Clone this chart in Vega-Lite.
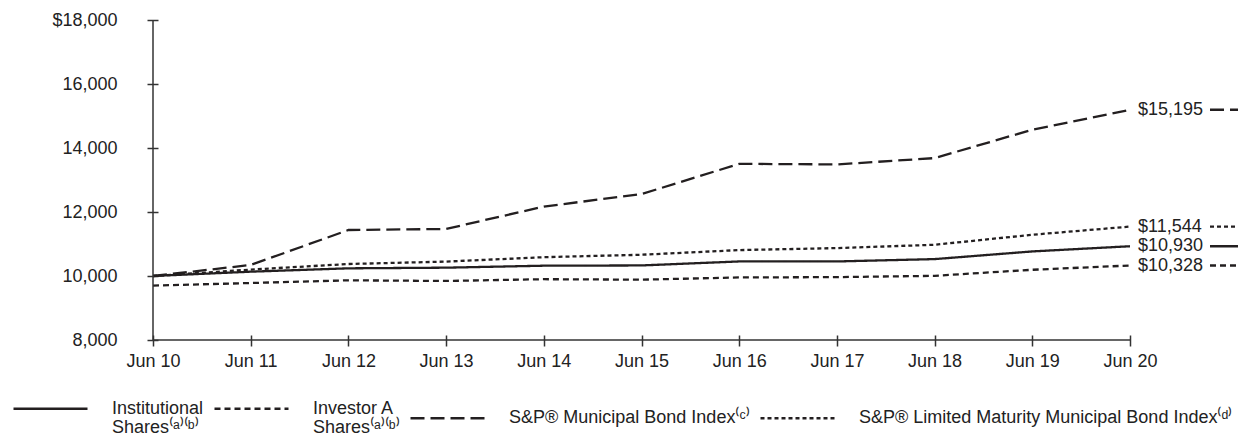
{
  "$schema": "https://vega.github.io/schema/vega-lite/v6.json",
  "width": 977,
  "height": 320,
  "autosize": {"type": "none"},
  "padding": {"left": 153, "top": 20, "right": 108, "bottom": 98},
  "background": "white",
  "config": {
    "view": {"stroke": null},
    "font": "Liberation Sans",
    "axis": {"labelFont": "Liberation Sans", "labelFontSize": 18, "labelColor": "#222", "domain": false, "grid": false, "tickColor": "#333", "tickWidth": 1.5, "tickSize": 11, "offset": -5, "title": null},
    "legend": {"labelFont": "Liberation Sans", "labelFontSize": 18, "labelColor": "#222"}
  },
  "data": {
    "values": [
      {"year": 2010, "series": "Institutional Shares", "value": 10000},
      {"year": 2011, "series": "Institutional Shares", "value": 10135},
      {"year": 2012, "series": "Institutional Shares", "value": 10240},
      {"year": 2013, "series": "Institutional Shares", "value": 10260},
      {"year": 2014, "series": "Institutional Shares", "value": 10322},
      {"year": 2015, "series": "Institutional Shares", "value": 10330},
      {"year": 2016, "series": "Institutional Shares", "value": 10455},
      {"year": 2017, "series": "Institutional Shares", "value": 10455},
      {"year": 2018, "series": "Institutional Shares", "value": 10528},
      {"year": 2019, "series": "Institutional Shares", "value": 10768},
      {"year": 2020, "series": "Institutional Shares", "value": 10930},
      {"year": 2010, "series": "Investor A Shares", "value": 9700},
      {"year": 2011, "series": "Investor A Shares", "value": 9781},
      {"year": 2012, "series": "Investor A Shares", "value": 9865},
      {"year": 2013, "series": "Investor A Shares", "value": 9845},
      {"year": 2014, "series": "Investor A Shares", "value": 9900},
      {"year": 2015, "series": "Investor A Shares", "value": 9885},
      {"year": 2016, "series": "Investor A Shares", "value": 9955},
      {"year": 2017, "series": "Investor A Shares", "value": 9965},
      {"year": 2018, "series": "Investor A Shares", "value": 10005},
      {"year": 2019, "series": "Investor A Shares", "value": 10195},
      {"year": 2020, "series": "Investor A Shares", "value": 10328},
      {"year": 2010, "series": "S&P® Municipal Bond Index", "value": 10000},
      {"year": 2011, "series": "S&P® Municipal Bond Index", "value": 10344},
      {"year": 2012, "series": "S&P® Municipal Bond Index", "value": 11437},
      {"year": 2013, "series": "S&P® Municipal Bond Index", "value": 11469},
      {"year": 2014, "series": "S&P® Municipal Bond Index", "value": 12170},
      {"year": 2015, "series": "S&P® Municipal Bond Index", "value": 12560},
      {"year": 2016, "series": "S&P® Municipal Bond Index", "value": 13505},
      {"year": 2017, "series": "S&P® Municipal Bond Index", "value": 13487},
      {"year": 2018, "series": "S&P® Municipal Bond Index", "value": 13685},
      {"year": 2019, "series": "S&P® Municipal Bond Index", "value": 14570},
      {"year": 2020, "series": "S&P® Municipal Bond Index", "value": 15195},
      {"year": 2010, "series": "S&P® Limited Maturity Municipal Bond Index", "value": 10000},
      {"year": 2011, "series": "S&P® Limited Maturity Municipal Bond Index", "value": 10200},
      {"year": 2012, "series": "S&P® Limited Maturity Municipal Bond Index", "value": 10375},
      {"year": 2013, "series": "S&P® Limited Maturity Municipal Bond Index", "value": 10450},
      {"year": 2014, "series": "S&P® Limited Maturity Municipal Bond Index", "value": 10588},
      {"year": 2015, "series": "S&P® Limited Maturity Municipal Bond Index", "value": 10664},
      {"year": 2016, "series": "S&P® Limited Maturity Municipal Bond Index", "value": 10810},
      {"year": 2017, "series": "S&P® Limited Maturity Municipal Bond Index", "value": 10872},
      {"year": 2018, "series": "S&P® Limited Maturity Municipal Bond Index", "value": 10976},
      {"year": 2019, "series": "S&P® Limited Maturity Municipal Bond Index", "value": 11289},
      {"year": 2020, "series": "S&P® Limited Maturity Municipal Bond Index", "value": 11544}
    ]
  },
  "layer": [
    {
      "mark": {"type": "line", "stroke": "#231f20", "strokeWidth": 2.3, "clip": false},
      "encoding": {
        "x": {"field": "year", "type": "quantitative", "scale": {"domain": [2010, 2020], "nice": false, "zero": false},
          "axis": {"values": [2010, 2011, 2012, 2013, 2014, 2015, 2016, 2017, 2018, 2019, 2020], "labelExpr": "'Jun ' + (datum.value - 2000)", "labelPadding": 6, "labelFlush": false, "labelOverlap": false, "title": null}},
        "y": {"field": "value", "type": "quantitative", "scale": {"domain": [8000, 18000], "nice": false, "zero": false},
          "axis": {"values": [8000, 10000, 12000, 14000, 16000, 18000], "format": ",.0f", "labelExpr": "datum.value == 18000 ? '$' + datum.label : datum.label", "labelPadding": 30, "title": null}},
        "strokeDash": {"field": "series", "type": "nominal",
          "scale": {"domain": ["Institutional Shares", "Investor A Shares", "S&P® Municipal Bond Index", "S&P® Limited Maturity Municipal Bond Index"], "range": [[1, 0], [6, 4], [14, 6], [4, 3]]},
          "legend": {"orient": "none", "direction": "horizontal", "columns": 4, "legendX": -141, "legendY": 350, "title": null, "padding": 0,
            "symbolType": "stroke", "symbolSize": 5476, "symbolStrokeColor": "#231f20", "symbolStrokeWidth": 2.3,
            "labelOffset": 23, "columnPadding": 5, "labelBaseline": "top", "labelLimit": 600,
            "labelExpr": "datum.label == 'Institutional Shares' ? ['Institutional', 'Shares⁽ᵃ⁾⁽ᵇ⁾'] : datum.label == 'Investor A Shares' ? ['Investor A', 'Shares⁽ᵃ⁾⁽ᵇ⁾'] : datum.label == 'S&P® Municipal Bond Index' ? 'S&P® Municipal Bond Index⁽ᶜ⁾' : 'S&P® Limited Maturity Municipal Bond Index⁽ᵈ⁾'",
            "encoding": {"labels": {"dy": {"value": -9}, "lineHeight": {"value": 19}}}}
        }
      }
    },
    {
      "data": {"values": [{}]},
      "mark": {"type": "rule", "stroke": "#333", "strokeWidth": 1.5},
      "encoding": {
        "x": {"datum": 2010, "type": "quantitative"},
        "y": {"datum": 8000, "type": "quantitative"},
        "y2": {"datum": 18000}
      }
    },
    {
      "data": {"values": [{}]},
      "mark": {"type": "rule", "stroke": "#333", "strokeWidth": 1.5},
      "encoding": {
        "x": {"datum": 2010, "type": "quantitative"},
        "x2": {"datum": 2020},
        "y": {"datum": 8000, "type": "quantitative"}
      }
    },
    {
      "transform": [{"filter": "datum.year == 2020"}],
      "mark": {"type": "text", "align": "left", "baseline": "middle", "dx": 8, "fontSize": 18, "font": "Liberation Sans", "color": "#222"},
      "encoding": {
        "x": {"field": "year", "type": "quantitative"},
        "y": {"field": "value", "type": "quantitative"},
        "text": {"field": "value", "type": "quantitative", "format": "$,"}
      }
    },
    {
      "transform": [{"filter": "datum.year == 2020"}],
      "mark": {"type": "rule", "stroke": "#231f20", "strokeWidth": 2.3, "xOffset": 80, "x2Offset": 109},
      "encoding": {
        "x": {"field": "year", "type": "quantitative"},
        "x2": {"field": "year"},
        "y": {"field": "value", "type": "quantitative"},
        "strokeDash": {"field": "series", "type": "nominal", "legend": null}
      }
    }
  ]
}
